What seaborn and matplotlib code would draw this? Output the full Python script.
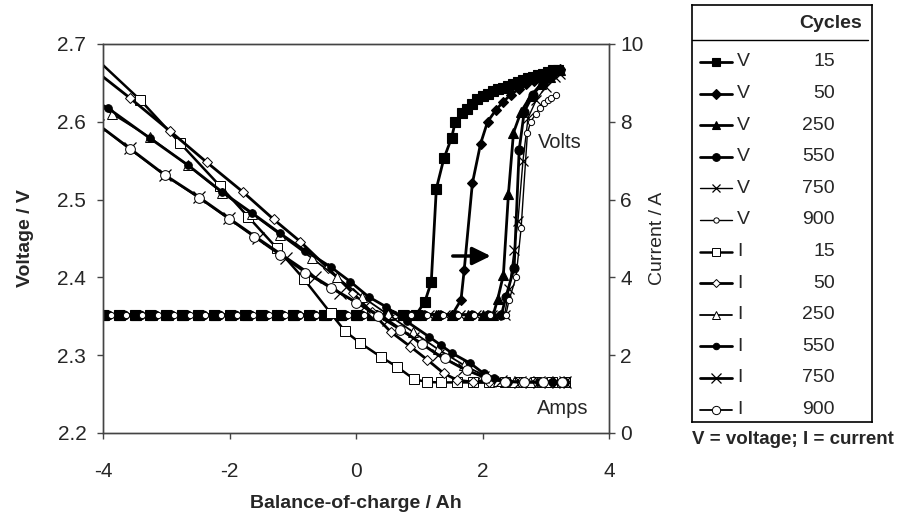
import matplotlib
matplotlib.use("Agg")
import matplotlib.pyplot as plt
import seaborn as sns
from matplotlib.ticker import FormatStrFormatter, FixedLocator

sns.set_style("ticks")
plt.rcParams['font.family'] = ['Liberation Sans', 'DejaVu Sans']
plt.rcParams['axes.unicode_minus'] = False

# ---------------- data ----------------
cycles = ["15", "50", "250", "550", "750", "900"]

v15_x = [-4.0, -3.75, -3.5, -3.25, -3.0, -2.75, -2.5, -2.25, -2.0, -1.75, -1.5, -1.25, -1.0, -0.75, -0.5, -0.25,
         0.0, 0.25, 0.5, 0.75, 0.95, 1.09, 1.19, 1.27, 1.39, 1.51, 1.57, 1.68, 1.76, 1.84, 1.92, 2.0, 2.08, 2.16,
         2.24, 2.32, 2.40, 2.48, 2.56, 2.64, 2.72, 2.80, 2.88, 2.96, 3.04, 3.12, 3.19]
v15_v = [2.352, 2.352, 2.352, 2.352, 2.352, 2.352, 2.352, 2.352, 2.352, 2.352, 2.352, 2.352, 2.352, 2.352, 2.352,
         2.352, 2.352, 2.352, 2.352, 2.352, 2.352, 2.369, 2.394, 2.514, 2.553, 2.579, 2.600, 2.611, 2.617, 2.623,
         2.629, 2.633, 2.636, 2.639, 2.642, 2.644, 2.646, 2.649, 2.651, 2.654, 2.656, 2.658, 2.660, 2.662, 2.664,
         2.666, 2.667]

v50_x = [-3.95, -3.7, -3.45, -3.2, -2.95, -2.7, -2.45, -2.2, -1.95, -1.7, -1.45, -1.2, -0.95, -0.7, -0.45, -0.2,
         0.05, 0.3, 0.55, 0.8, 1.05, 1.3, 1.52, 1.66, 1.71, 1.84, 1.97, 2.08, 2.21, 2.33, 2.45, 2.57, 2.69, 2.81,
         2.93, 3.05, 3.15, 3.22]
v50_v = [2.352, 2.352, 2.352, 2.352, 2.352, 2.352, 2.352, 2.352, 2.352, 2.352, 2.352, 2.352, 2.352, 2.352, 2.352,
         2.352, 2.352, 2.352, 2.352, 2.352, 2.352, 2.352, 2.352, 2.371, 2.409, 2.521, 2.572, 2.600, 2.615, 2.626,
         2.635, 2.642, 2.648, 2.653, 2.657, 2.661, 2.665, 2.668]

v250_x = [-3.98, -3.73, -3.48, -3.23, -2.98, -2.73, -2.48, -2.23, -1.98, -1.73, -1.48, -1.23, -0.98, -0.73, -0.48,
          -0.23, 0.02, 0.27, 0.52, 0.77, 1.02, 1.27, 1.52, 1.77, 2.0, 2.17, 2.24, 2.33, 2.41, 2.49, 2.61, 2.76,
          2.92, 3.07, 3.22]
v250_v = [2.352, 2.352, 2.352, 2.352, 2.352, 2.352, 2.352, 2.352, 2.352, 2.352, 2.352, 2.352, 2.352, 2.352, 2.352,
          2.352, 2.352, 2.352, 2.352, 2.352, 2.352, 2.352, 2.352, 2.352, 2.352, 2.352, 2.372, 2.403, 2.507, 2.586,
          2.613, 2.633, 2.648, 2.658, 2.666]

v550_x = [-3.92, -3.67, -3.42, -3.17, -2.92, -2.67, -2.42, -2.17, -1.92, -1.67, -1.42, -1.17, -0.92, -0.67, -0.42,
          -0.17, 0.08, 0.33, 0.58, 0.83, 1.08, 1.33, 1.58, 1.83, 2.08, 2.3, 2.37, 2.50, 2.58, 2.66, 2.80, 2.95,
          3.10, 3.23]
v550_v = [2.352, 2.352, 2.352, 2.352, 2.352, 2.352, 2.352, 2.352, 2.352, 2.352, 2.352, 2.352, 2.352, 2.352, 2.352,
          2.352, 2.352, 2.352, 2.352, 2.352, 2.352, 2.352, 2.352, 2.352, 2.352, 2.352, 2.375, 2.412, 2.564, 2.613,
          2.635, 2.650, 2.660, 2.667]

v750_x = [-3.85, -3.6, -3.35, -3.1, -2.85, -2.6, -2.35, -2.1, -1.85, -1.6, -1.35, -1.1, -0.85, -0.6, -0.35, -0.1,
          0.15, 0.4, 0.65, 0.9, 1.15, 1.4, 1.65, 1.9, 2.15, 2.35, 2.42, 2.50, 2.56, 2.64, 2.72, 2.85, 3.0, 3.15, 3.23]
v750_v = [2.352, 2.352, 2.352, 2.352, 2.352, 2.352, 2.352, 2.352, 2.352, 2.352, 2.352, 2.352, 2.352, 2.352, 2.352,
          2.352, 2.352, 2.352, 2.352, 2.352, 2.352, 2.352, 2.352, 2.352, 2.352, 2.352, 2.385, 2.435, 2.472, 2.550,
          2.605, 2.628, 2.645, 2.657, 2.662]

v900_x = [-3.88, -3.63, -3.38, -3.13, -2.88, -2.63, -2.38, -2.13, -1.88, -1.63, -1.38, -1.13, -0.88, -0.63, -0.38,
          -0.13, 0.12, 0.37, 0.62, 0.87, 1.12, 1.37, 1.62, 1.87, 2.12, 2.37, 2.42, 2.53, 2.61, 2.71, 2.76, 2.84,
          2.91, 2.97, 3.03, 3.08, 3.16]
v900_v = [2.352, 2.352, 2.352, 2.352, 2.352, 2.352, 2.352, 2.352, 2.352, 2.352, 2.352, 2.352, 2.352, 2.352, 2.352,
          2.352, 2.352, 2.352, 2.352, 2.352, 2.352, 2.352, 2.352, 2.352, 2.352, 2.352, 2.371, 2.400, 2.463, 2.585,
          2.600, 2.610, 2.618, 2.624, 2.628, 2.630, 2.634]

i15_x = [-4.08, -3.41, -2.78, -2.15, -1.70, -1.25, -0.82, -0.40, -0.17, 0.07, 0.39, 0.65, 0.92, 1.13, 1.35, 1.6,
         1.85, 2.1, 2.35, 2.6, 2.85, 3.1, 3.3]
i15_a = [9.58, 8.56, 7.45, 6.35, 5.55, 4.75, 3.95, 3.08, 2.61, 2.31, 1.96, 1.70, 1.38, 1.31, 1.30, 1.30, 1.30, 1.30,
         1.30, 1.30, 1.30, 1.30, 1.30]

i50_x = [-4.08, -3.58, -2.94, -2.36, -1.79, -1.30, -0.88, -0.45, -0.05, 0.25, 0.55, 0.86, 1.13, 1.39, 1.60, 1.85,
         2.1, 2.35, 2.6, 2.85, 3.1, 3.3]
i50_a = [9.26, 8.62, 7.76, 6.96, 6.20, 5.49, 4.92, 4.25, 3.60, 3.10, 2.60, 2.22, 1.88, 1.53, 1.36, 1.31, 1.30, 1.30,
         1.30, 1.30, 1.30, 1.30]

i250_x = [-4.08, -3.85, -3.26, -2.66, -2.12, -1.64, -1.20, -0.70, -0.30, 0.10, 0.50, 0.90, 1.30, 1.70, 2.00, 2.25,
          2.5, 2.75, 3.0, 3.25]
i250_a = [8.46, 8.20, 7.60, 6.88, 6.18, 5.63, 5.10, 4.50, 4.00, 3.50, 3.05, 2.60, 2.15, 1.75, 1.50, 1.34, 1.31, 1.31,
          1.31, 1.31]

i550_x = [-4.08, -3.92, -3.26, -2.66, -2.12, -1.64, -1.20, -0.80, -0.40, -0.09, 0.20, 0.47, 0.80, 1.15, 1.34, 1.52,
          1.81, 2.02, 2.18, 2.4, 2.65, 2.9, 3.1, 3.3]
i550_a = [8.49, 8.35, 7.58, 6.89, 6.20, 5.65, 5.13, 4.68, 4.27, 3.89, 3.50, 3.25, 2.87, 2.48, 2.26, 2.05, 1.79, 1.53,
          1.41, 1.32, 1.31, 1.31, 1.31, 1.31]

i750_x = [-4.08, -3.58, -3.02, -2.49, -2.01, -1.55, -1.10, -0.65, -0.25, 0.12, 0.50, 0.90, 1.30, 1.70, 2.00, 2.30,
          2.6, 2.9, 3.2, 3.3]
i750_a = [7.93, 7.32, 6.63, 6.07, 5.52, 5.00, 4.50, 4.00, 3.60, 3.25, 2.90, 2.45, 2.00, 1.65, 1.45, 1.33, 1.31, 1.31,
          1.31, 1.31]

i900_x = [-4.08, -3.58, -3.02, -2.49, -2.01, -1.62, -1.20, -0.80, -0.40, 0.00, 0.35, 0.70, 1.05, 1.40, 1.75, 2.05,
          2.35, 2.65, 2.95, 3.25]
i900_a = [7.93, 7.30, 6.62, 6.05, 5.50, 5.05, 4.57, 4.12, 3.72, 3.35, 3.00, 2.65, 2.28, 1.92, 1.62, 1.42, 1.32, 1.30,
          1.30, 1.30]

v_ticks = [2.2, 2.3, 2.4, 2.5, 2.6, 2.7]
i_ticks = [0, 2, 4, 6, 8, 10]
x_ticks = [-4, -2, 0, 2, 4]

# ---------------- styles ----------------
V_STYLES = [
    dict(marker='s', ms=7.5, lw=2.0, mfc='black', mew=0.8),
    dict(marker='D', ms=5.5, lw=2.0, mfc='black', mew=0.8),
    dict(marker='^', ms=7.5, lw=2.0, mfc='black', mew=0.8),
    dict(marker='o', ms=6.5, lw=2.0, mfc='black', mew=0.8),
    dict(marker='x', ms=6.5, lw=1.0, mfc='black', mew=0.9),
    dict(marker='o', ms=4.5, lw=1.0, mfc='white', mew=0.7),
]
I_STYLES = [
    dict(marker='s', ms=7, lw=1.8, mfc='white', mew=0.7),
    dict(marker='D', ms=5, lw=2.0, mfc='white', mew=0.7),
    dict(marker='^', ms=7, lw=1.3, mfc='white', mew=0.7),
    dict(marker='o', ms=5.5, lw=2.0, mfc='black', mew=0.7),
    dict(marker='x', ms=8, lw=2.0, mfc='black', mew=0.9),
    dict(marker='o', ms=7, lw=1.3, mfc='white', mew=0.7),
]

TICK_FS = 15
LABEL_FS = 14
LEG_FS = 14

fig = plt.figure(figsize=(9.03, 5.22), dpi=100)
L, R, T, B = 103, 609, 44, 433
W, H = 903, 522
ax = fig.add_axes([L / W, (H - B) / H, (R - L) / W, (B - T) / H])
ax2 = ax.twinx()


def draw(axis, x, y, st):
    sns.lineplot(x=x, y=y, ax=axis, color='black', marker=st['marker'], markersize=st['ms'],
                 linewidth=st['lw'], markerfacecolor=st['mfc'], markeredgecolor='black',
                 markeredgewidth=st['mew'], sort=False, estimator=None, legend=False)


volt_series = [(v15_x, v15_v), (v50_x, v50_v), (v250_x, v250_v),
               (v550_x, v550_v), (v750_x, v750_v), (v900_x, v900_v)]
amp_series = [(i15_x, i15_a), (i50_x, i50_a), (i250_x, i250_a),
              (i550_x, i550_a), (i750_x, i750_a), (i900_x, i900_a)]

for (x, y), st in zip(amp_series, I_STYLES):
    draw(ax2, x, y, st)
for (x, y), st in zip(volt_series, V_STYLES):
    draw(ax, x, y, st)

ax.set_xlim(-4, 4)
ax.set_ylim(2.2, 2.7)
ax2.set_ylim(0, 10)
ax.xaxis.set_major_locator(FixedLocator(x_ticks))
ax.yaxis.set_major_locator(FixedLocator(v_ticks))
ax2.yaxis.set_major_locator(FixedLocator(i_ticks))
ax.yaxis.set_major_formatter(FormatStrFormatter('%.1f'))
ax2.yaxis.set_major_formatter(FormatStrFormatter('%d'))
ax.xaxis.set_major_formatter(FormatStrFormatter('%d'))

spine_col = '#444444'
for a in (ax, ax2):
    for s in a.spines.values():
        s.set_visible(True)
        s.set_color(spine_col)
        s.set_linewidth(1.0)
ax.tick_params(axis='x', direction='out', length=4, width=1, color=spine_col, labelsize=TICK_FS, pad=17)
ax.tick_params(axis='y', direction='out', length=4, width=1, color=spine_col, labelsize=TICK_FS, pad=8)
ax2.tick_params(axis='y', direction='out', length=4, width=1, color=spine_col, labelsize=TICK_FS, pad=4)

ax.set_xlabel('Balance-of-charge / Ah', fontsize=LABEL_FS, fontweight='bold')
ax.set_ylabel('Voltage / V', fontsize=LABEL_FS, fontweight='bold')
ax2.set_ylabel('Current / A', fontsize=LABEL_FS)
ax.xaxis.label.set_va('center')
ax.xaxis.set_label_coords(0.5, (B - 503) / (B - T))
ax.yaxis.label.set_va('center')
ax.yaxis.set_label_coords((26 - L) / (R - L), 0.5)
ax2.yaxis.label.set_va('center')
ax2.yaxis.set_label_coords((658 - L) / (R - L), 0.5)

ax.text(3.22, 2.573, 'Volts', ha='center', va='center', fontsize=14.5)
ax.text(3.27, 2.232, 'Amps', ha='center', va='center', fontsize=14.5)
ax.annotate('', xy=(2.13, 2.4275), xytext=(1.53, 2.4275),
            arrowprops=dict(arrowstyle='-|>,head_length=0.55,head_width=0.27', lw=2.5,
                            color='black', mutation_scale=20, shrinkA=0, shrinkB=0))

# ---------------- legend box ----------------
LX0, LX1, LY0, LY1 = 692, 872, 5, 422
lax = fig.add_axes([LX0 / W, (H - LY1) / H, (LX1 - LX0) / W, (LY1 - LY0) / H])
lax.set_xlim(0, LX1 - LX0)
lax.set_ylim(LY1 - LY0, 0)
lax.set_xticks([])
lax.set_yticks([])
for s in lax.spines.values():
    s.set_visible(True)
    s.set_color('black')
    s.set_linewidth(1.2)
lax.text(170, 18, 'Cycles', ha='right', va='center', fontsize=LEG_FS, fontweight='bold')
lax.plot([0, 176], [35, 35], color='black', lw=1.0)
rows = [('V', c, st) for c, st in zip(cycles, V_STYLES)] + [('I', c, st) for c, st in zip(cycles, I_STYLES)]
for k, (kind, cyc, st) in enumerate(rows):
    y = 57 + 31.6 * k
    lax.plot([8, 40], [y, y], color='black', lw=st['lw'])
    lax.plot([24], [y], color='black', marker=st['marker'], ms=st['ms'] * 0.85,
             mfc=st['mfc'], mec='black', mew=st['mew'])
    lax.text(45, y, kind, ha='left', va='center', fontsize=LEG_FS)
    lax.text(143, y, cyc, ha='right', va='center', fontsize=LEG_FS)

fig.text(LX0 / W, (H - 440) / H, 'V = voltage; I = current', ha='left', va='center',
         fontsize=13.5, fontweight='bold')

fig.savefig('out.png', dpi=100)
